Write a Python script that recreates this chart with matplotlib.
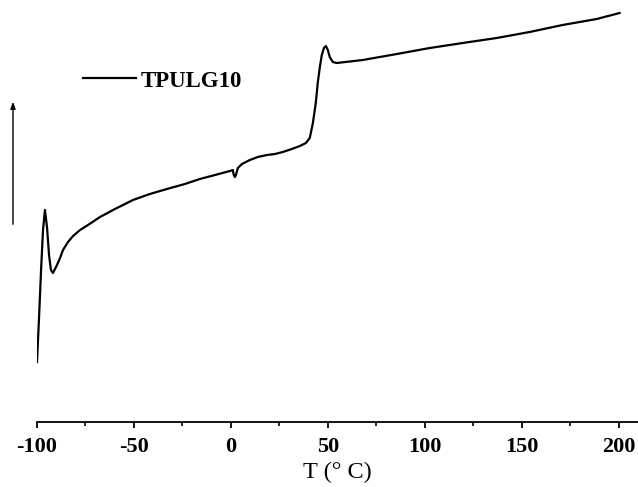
import matplotlib
matplotlib.use("Agg")
import matplotlib.pyplot as plt
from matplotlib.ticker import MultipleLocator

plt.rcParams["axes.unicode_minus"] = False

# DSC curve of TPULG10 (temperature in °C, heat flow in arbitrary units)
temperature = [-100.0, -99.0, -97.9, -96.9, -95.9, -94.8, -93.8, -92.8, -91.8, -90.7,
               -89.7, -88.1, -86.6, -84.0, -81.4, -77.8, -73.7, -67.5, -59.8, -50.5,
               -41.8, -33.0, -23.7, -16.0, -8.2, -0.5, 1.0, 1.5, 2.1, 2.6,
               3.6, 5.7, 9.8, 13.9, 18.6, 22.7, 26.8, 31.4, 35.6, 38.7,
               40.7, 42.3, 43.8, 44.8, 45.9, 46.9, 48.0, 49.0, 50.0, 51.0,
               52.6, 54.6, 68.0, 85.6, 102.6, 119.6, 137.1, 154.1, 171.1, 188.7,
               200.5]
heat_flow = [6.0, 10.2, 15.2, 19.2, 21.2, 19.4, 16.7, 15.2, 14.9, 15.3,
             15.7, 16.4, 17.2, 18.0, 18.6, 19.2, 19.7, 20.5, 21.3, 22.2,
             22.8, 23.3, 23.8, 24.3, 24.7, 25.1, 25.2, 24.7, 24.5, 24.7,
             25.4, 25.8, 26.2, 26.5, 26.7, 26.8, 27.0, 27.3, 27.6, 27.9,
             28.4, 29.9, 31.9, 33.9, 35.5, 36.7, 37.4, 37.6, 37.2, 36.5,
             36.0, 35.9, 36.2, 36.8, 37.4, 37.9, 38.4, 39.0, 39.7, 40.3,
             40.9]
series_label = "TPULG10"
x_ticks = [-100, -50, 0, 50, 100, 150, 200]
x_label = "T (° C)"

W, H = 638, 487
fig = plt.figure(figsize=(W / 100, H / 100), dpi=100)
ax = fig.add_axes([37 / W, 65 / H, 1 - 37 / W, 1 - 65 / H])

ax.plot(temperature, heat_flow, color="black", lw=1.6, label=series_label,
        solid_joinstyle="round")

ax.set_xlim(-100, 210)
ax.set_ylim(0, 42.2)
for s in ["top", "right", "left"]:
    ax.spines[s].set_visible(False)
ax.spines["bottom"].set_linewidth(1.3)
ax.set_yticks([])
ax.set_xticks(x_ticks)
ax.xaxis.set_minor_locator(MultipleLocator(25))
ax.tick_params(axis="x", which="major", length=4, width=1.3, direction="out", pad=7)
ax.tick_params(axis="x", which="minor", length=3, width=1.2, direction="out")
for lab in ax.get_xticklabels():
    lab.set_fontfamily("Liberation Serif")
    lab.set_fontweight("bold")
    lab.set_fontsize(16)

ax.set_xlabel(x_label, fontfamily="Liberation Serif", fontsize=17.5, labelpad=3)

leg = ax.legend(loc="center left", bbox_to_anchor=(83 / W, 1 - 81 / H),
                bbox_transform=fig.transFigure, frameon=False, borderpad=0,
                borderaxespad=0, handlelength=2.3, handletextpad=0.22,
                prop={"family": "Liberation Serif", "weight": "bold", "size": 16.5})

# vertical arrow indicating heat-flow direction
fig.add_artist(matplotlib.patches.FancyArrowPatch(
    (13 / W, 1 - 227 / H), (13 / W, 1 - 99 / H), transform=fig.transFigure,
    arrowstyle="-|>,head_length=4,head_width=1.5", color="black", lw=1.0,
    mutation_scale=1))

fig.savefig("out.png", dpi=100)
